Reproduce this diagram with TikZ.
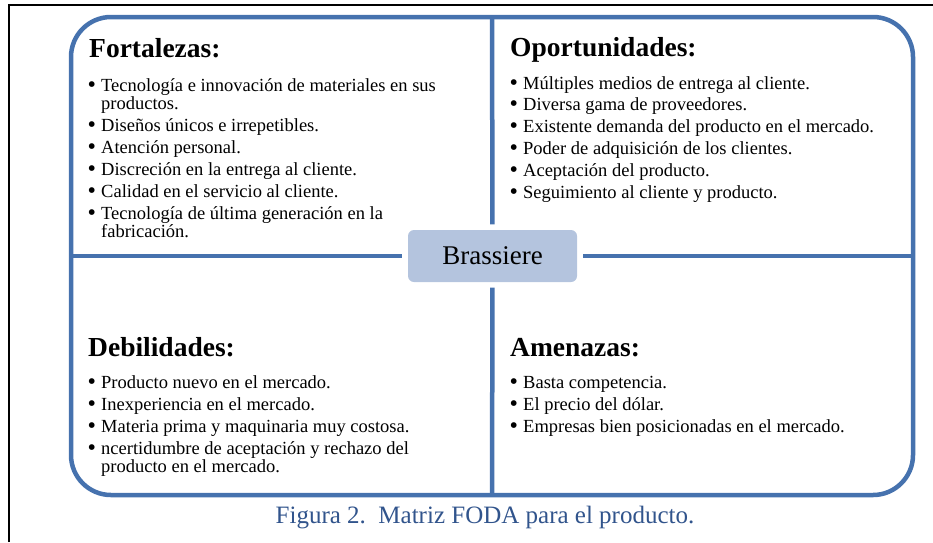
\documentclass[tikz,border=0pt]{standalone}
\usepackage{fontspec}
\setmainfont{Liberation Serif}
\definecolor{frameblue}{HTML}{4672AE}
\definecolor{boxfill}{HTML}{B4C4DE}
\definecolor{capblue}{HTML}{31548C}
\newcommand\bul{\makebox[13pt][l]{\hspace*{-0.5pt}\fontsize{24}{24}\selectfont\raisebox{-1pt}{\textbullet}}}
\begin{document}
\begin{tikzpicture}[x=1pt,y=-1pt,
  it/.style={inner sep=0pt,anchor=base west,font=\fontsize{18.5}{18.5}\selectfont},
  head/.style={inner sep=0pt,anchor=base west,font=\fontsize{27.5}{28}\selectfont\bfseries},
  cross/.style={draw=frameblue,line width=4.5pt}]
\useasboundingbox (0,0) rectangle (933,542);
% page frame (top and left only)
\draw[line width=1.8pt] (9,542) -- (9,5) -- (933,5);
% rounded frame
\draw[frameblue,line width=4.5pt,rounded corners=40pt] (71,17) rectangle (913,495);
\coordinate (ctop) at (492,17);
\coordinate (cbot) at (492,495);
\coordinate (cleft) at (71,256);
\coordinate (cright) at (913,256);
% center node
\node[fill=boxfill,rounded corners=6pt,minimum width=169pt,minimum height=52pt,inner sep=0pt,
      font=\fontsize{27}{27}\selectfont] (brass) at (492.5,256) {Brassiere};
\draw[cross,shorten >=5.5pt] (ctop) -- (brass.north);
\draw[cross,shorten >=5.5pt] (cbot) -- (brass.south);
\draw[cross,shorten >=5.5pt] (cleft) -- (brass.west);
\draw[cross,shorten >=5.5pt] (cright) -- (brass.east);
% Fortalezas
\node[head] (hF) at (89,57) {Fortalezas:};
\node[it] (f1) at (88,91) {\bul Tecnología e innovación de materiales en sus};
\node[it] (f1b) at (101,109) {productos.};
\node[it] (f2) at (88,131) {\bul Diseños únicos e irrepetibles.};
\node[it] (f3) at (88,153) {\bul Atención personal.};
\node[it] (f4) at (88,175) {\bul Discreción en la entrega al cliente.};
\node[it] (f5) at (88,197) {\bul Calidad en el servicio al cliente.};
\node[it] (f6) at (88,219) {\bul Tecnología de última generación en la};
\node[it] (f6b) at (101,237) {fabricación.};
% Oportunidades
\node[head] (hO) at (510,56) {Oportunidades:};
\node[it] (o1) at (510,89) {\bul Múltiples medios de entrega al cliente.};
\node[it] (o2) at (510,110.8) {\bul Diversa gama de proveedores.};
\node[it] (o3) at (510,132.6) {\bul Existente demanda del producto en el mercado.};
\node[it] (o4) at (510,154.4) {\bul Poder de adquisición de los clientes.};
\node[it] (o5) at (510,176.2) {\bul Aceptación del producto.};
\node[it] (o6) at (510,198) {\bul Seguimiento al cliente y producto.};
% Debilidades
\node[head] (hD) at (88,356) {Debilidades:};
\node[it] (d1) at (88,388) {\bul Producto nuevo en el mercado.};
\node[it] (d2) at (88,410) {\bul Inexperiencia en el mercado.};
\node[it] (d3) at (88,432) {\bul Materia prima y maquinaria muy costosa.};
\node[it] (d4) at (88,454) {\bul ncertidumbre de aceptación y rechazo del};
\node[it] (d4b) at (101,472) {producto en el mercado.};
% Amenazas
\node[head] (hA) at (510,356) {Amenazas:};
\node[it] (a1) at (510,388) {\bul Basta competencia.};
\node[it] (a2) at (510,410) {\bul El precio del dólar.};
\node[it] (a3) at (510,432) {\bul Empresas bien posicionadas en el mercado.};
% caption
\node[inner sep=0pt,anchor=base,text=capblue,font=\fontsize{25}{25}\selectfont] (cap) at (485,523)
  {Figura 2.\ \ Matriz FODA para el producto.};
\end{tikzpicture}
\end{document}
